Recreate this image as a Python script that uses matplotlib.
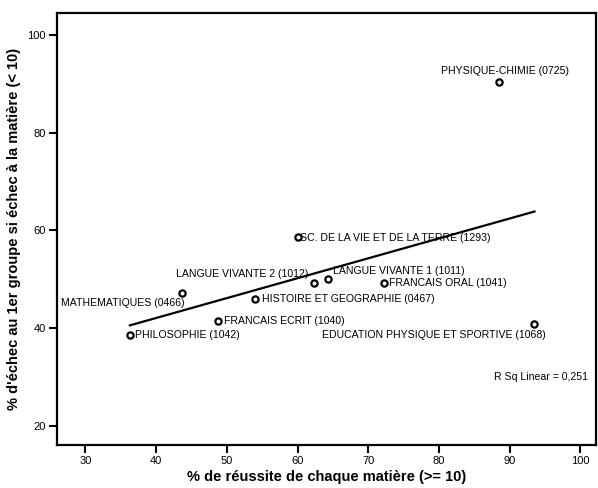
import matplotlib
matplotlib.use('agg')
import matplotlib.pyplot as plt
import numpy as np

plt.rcParams['font.family'] = ['Liberation Sans', 'DejaVu Sans']

# subjects: (% success, % failure at 1st group given failure in subject)
subjects = ["PHYSIQUE-CHIMIE (0725)", "SC. DE LA VIE ET DE LA TERRE (1293)",
            "MATHEMATIQUES (0466)", "PHILOSOPHIE (1042)", "FRANCAIS ECRIT (1040)",
            "HISTOIRE ET GEOGRAPHIE (0467)", "LANGUE VIVANTE 2 (1012)",
            "LANGUE VIVANTE 1 (1011)", "FRANCAIS ORAL (1041)",
            "EDUCATION PHYSIQUE ET SPORTIVE (1068)"]
reussite = [88.5, 60.0, 43.7, 36.3, 48.8, 54.0, 62.3, 64.3, 72.2, 93.5]
echec = [90.3, 58.6, 47.2, 38.7, 41.5, 46.0, 49.3, 50.1, 49.3, 40.9]
r2_text = "R Sq Linear = 0,251"

# label offsets in points and alignment
label_pos = [(4, 8, 'center'), (2, -0.5, 'left'),
             (2, -7, 'right'), (3.5, 0, 'left'),
             (4, 0, 'left'), (5, 0, 'left'),
             (-4, 6.5, 'right'), (4, 5.5, 'left'),
             (4, 0, 'left'), (8, -8, 'right')]

fig = plt.figure(figsize=(5.98, 4.88), dpi=100)
ax = fig.add_axes([0.0953, 0.0881, 0.9014, 0.8853])

# regression line
a, b = np.polyfit(reussite, echec, 1)
xs = np.array([min(reussite), max(reussite)])
ax.plot(xs, a * xs + b, color='black', linewidth=1.6)

ax.plot(reussite, echec, 'o', ms=4.5, mfc='white', mec='black', mew=1.6, linestyle='none')

for name, x, y, (dx, dy, ha) in zip(subjects, reussite, echec, label_pos):
    ax.annotate(name, (x, y), xytext=(dx, dy), textcoords='offset points',
                ha=ha, va='center', fontsize=7.6)

ax.text(0.985, 0.157, r2_text, transform=ax.transAxes, ha='right', va='center', fontsize=7.6)

ax.set_xlim(26.0, 102.2)
ax.set_ylim(16.1, 104.5)
ax.set_xticks(np.arange(30, 101, 10))
ax.set_yticks(np.arange(20, 101, 20))
ax.tick_params(direction='out', length=6, width=1.5, labelsize=8, pad=2)
for s in ax.spines.values():
    s.set_linewidth(1.6)

ax.set_xlabel("% de réussite de chaque matière (>= 10)", fontsize=10.5, fontweight='bold')
ax.set_ylabel("% d'échec au 1er groupe si échec à la matière (< 10)", fontsize=10.5, fontweight='bold')
ax.xaxis.set_label_coords(0.5, -0.058)
ax.yaxis.set_label_coords(-0.066, 0.5)

plt.savefig("out.png", dpi=100)
plt.close('all')
